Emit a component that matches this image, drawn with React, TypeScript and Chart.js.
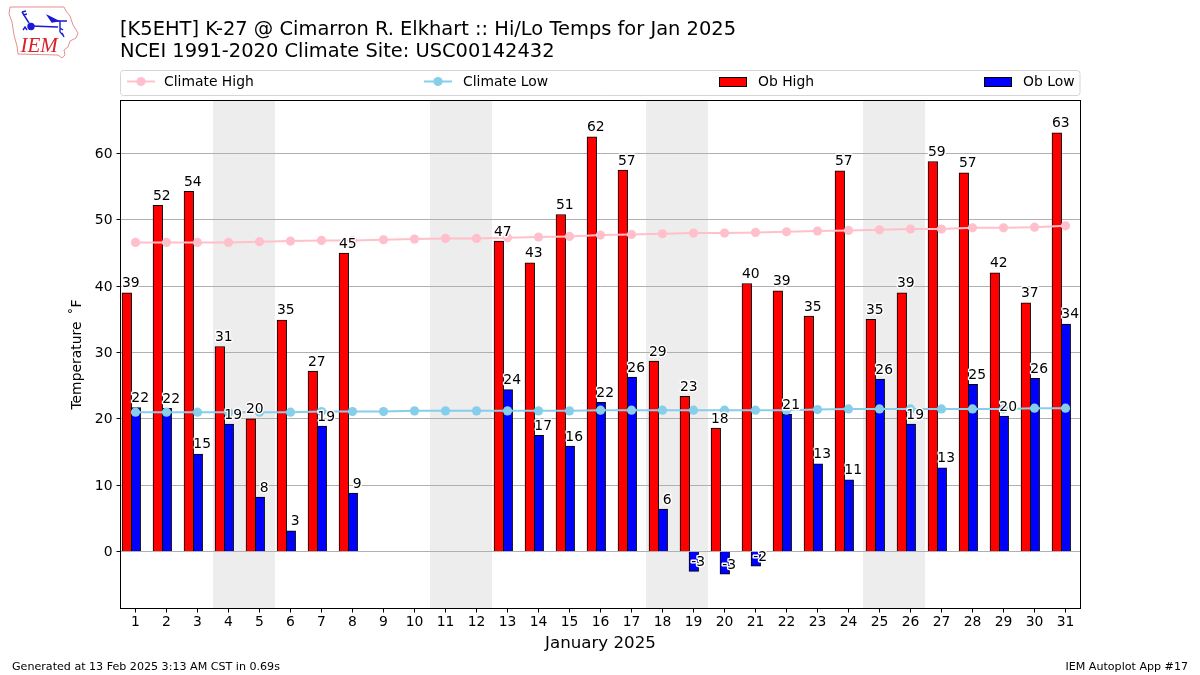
import React, { useEffect, useRef } from "react";
import { Chart, registerables } from "chart.js";

Chart.register(...registerables);

const days = Array.from({ length: 31 }, (_, i) => i + 1);
const climateHigh = [46.6,46.6,46.6,46.6,46.7,46.8,46.9,46.9,47.0,47.1,47.2,47.2,47.3,47.4,47.5,47.7,47.8,47.9,48.0,48.0,48.1,48.2,48.3,48.4,48.5,48.6,48.6,48.8,48.8,48.9,49.1];
const climateLow = [21.0,21.0,21.0,21.0,21.0,21.0,21.1,21.1,21.1,21.2,21.2,21.2,21.2,21.2,21.2,21.3,21.3,21.3,21.3,21.3,21.3,21.3,21.4,21.5,21.5,21.5,21.5,21.5,21.5,21.6,21.6];
const obHigh = [39.0,52.2,54.3,30.9,20.0,34.9,27.2,45.0,null,null,null,null,46.8,43.5,50.8,62.5,57.5,28.7,23.4,18.6,40.4,39.3,35.5,57.4,35.0,39.0,58.8,57.1,42.0,37.5,63.1];
const obLow = [21.7,21.6,14.7,19.2,8.2,3.1,18.9,8.8,null,null,null,null,24.4,17.5,15.9,22.5,26.3,6.4,-3.0,-3.4,-2.2,20.7,13.2,10.8,26.0,19.2,12.6,25.2,20.4,26.1,34.3];
const highLabels = ["39","52","54","31","20","35","27","45","","","","","47","43","51","62","57","29","23","18","40","39","35","57","35","39","59","57","42","37","63"];
const lowLabels = ["22","22","15","19","8","3","19","9","","","","","24","17","16","22","26","6","-3","-3","-2","21","13","11","26","19","13","25","20","26","34"];
const weekendBands = [[3.5,5.5],[10.5,12.5],[17.47,19.47],[24.47,26.47]];
const titleLines = ["[K5EHT] K-27 @ Cimarron R. Elkhart :: Hi/Lo Temps for Jan 2025","NCEI 1991-2020 Climate Site: USC00142432"];
const footerLeft = "Generated at 13 Feb 2025 3:13 AM CST in 0.69s";
const footerRight = "IEM Autoplot App #17";
const xTitle = "January 2025";
const yTitle = "Temperature \u2009\u02DAF";

const FONT = "'DejaVu Sans'";
const legendSlots = [
  { sym: 127, text: 164 },
  { sym: 424, text: 463 },
  { sym: 719, text: 758 },
  { sym: 984, text: 1023 },
];

const decor = {
  id: "decor",
  beforeDraw(chart: any) {
    const { ctx, chartArea: a, scales } = chart;
    ctx.save();
    ctx.fillStyle = "#ededed";
    for (const [s, e] of weekendBands) {
      const x0 = scales.x.getPixelForValue(s);
      const x1 = scales.x.getPixelForValue(e);
      ctx.fillRect(x0, a.top, x1 - x0, a.bottom - a.top);
    }
    ctx.restore();
  },
  afterDatasetsDraw(chart: any) {
    const { ctx, chartArea: a, scales } = chart;
    ctx.save();
    // zero line above the bars
    const y0 = Math.floor(scales.y.getPixelForValue(0)) + 0.5;
    ctx.strokeStyle = "#b0b0b0";
    ctx.lineWidth = 1;
    ctx.beginPath();
    ctx.moveTo(a.left, y0);
    ctx.lineTo(a.right, y0);
    ctx.stroke();
    // value labels with white halo
    ctx.font = `13.9px ${FONT}`;
    ctx.textAlign = "center";
    ctx.textBaseline = "alphabetic";
    ctx.lineJoin = "round";
    const put = (values: (number | null)[], labels: string[], shift: number) => {
      values.forEach((v, i) => {
        if (v === null) return;
        const x = scales.x.getPixelForValue(days[i] + shift);
        const y = scales.y.getPixelForValue(v) - 5.5;
        ctx.strokeStyle = "#fff";
        ctx.lineWidth = 2.8;
        ctx.strokeText(labels[i], x, y);
        ctx.fillStyle = "#000";
        ctx.fillText(labels[i], x, y);
      });
    };
    put(obHigh, highLabels, -0.15);
    put(obLow, lowLabels, 0.15);
    ctx.restore();
  },
  afterDraw(chart: any) {
    const { ctx, chartArea: a } = chart;
    ctx.save();
    // axes frame
    ctx.strokeStyle = "#000";
    ctx.lineWidth = 1;
    ctx.strokeRect(a.left, a.top, a.right - a.left, a.bottom - a.top);
    // titles
    ctx.fillStyle = "#000";
    ctx.textAlign = "left";
    ctx.textBaseline = "alphabetic";
    ctx.font = `19.45px ${FONT}`;
    ctx.fillText(titleLines[0], 120, 35);
    ctx.fillText(titleLines[1], 120, 57);
    // footer
    ctx.font = `11.1px ${FONT}`;
    ctx.fillText(footerLeft, 12, 670);
    ctx.textAlign = "right";
    ctx.fillText(footerRight, 1188, 670);
    // legend frame
    ctx.strokeStyle = "#d5d5d5";
    ctx.fillStyle = "#fff";
    ctx.beginPath();
    ctx.roundRect(120.5, 70.5, 959.5, 25, 3);
    ctx.fill();
    ctx.stroke();
    // legend entries
    ctx.textAlign = "left";
    ctx.textBaseline = "middle";
    ctx.font = `13.9px ${FONT}`;
    chart.data.datasets.forEach((ds: any, i: number) => {
      const slot = legendSlots[i];
      const cy = 81.5;
      if (ds.type === "line") {
        ctx.strokeStyle = ds.borderColor;
        ctx.lineWidth = 2;
        ctx.beginPath();
        ctx.moveTo(slot.sym, cy);
        ctx.lineTo(slot.sym + 28, cy);
        ctx.stroke();
        ctx.fillStyle = ds.borderColor;
        ctx.beginPath();
        ctx.arc(slot.sym + 14, cy, 4.6, 0, Math.PI * 2);
        ctx.fill();
      } else {
        ctx.fillStyle = ds.backgroundColor;
        ctx.fillRect(slot.sym + 0.5, 77.5, 27, 9);
        ctx.strokeStyle = "#000";
        ctx.lineWidth = 1;
        ctx.strokeRect(slot.sym + 0.5, 77.5, 27, 9);
      }
      ctx.fillStyle = "#000";
      ctx.fillText(ds.label, slot.text, cy + 1);
    });
    ctx.restore();
  },
};

function IemLogo() {
  return (
    <svg width={90} height={65} style={{ position: "absolute", left: 0, top: 0 }}>
      <path
        d="M10 7 L64 7 L66 11 L70 16 L73 25 L78 33 L76 38 L70 41 L68 47 L64 50 L65 55 L62 58 L58 55 L18 54 L17 46 L14 35 L12 22 L9 14 Z"
        fill="#fff"
        stroke="#e58f8f"
        strokeWidth={1}
      />
      <g stroke="#1a1ad6" fill="none" strokeWidth={1.4}>
        <path d="M31 26 L58 27 M22 12 L29 23 M22 12 L26 11 M23 15 L27 14 M57 21 L67 21 M60 21 L60 32 M60 32 L63 35 M60 28 L63 30" />
        <path d="M48 16 L58 21 L52 22 Z" fill="#1a1ad6" />
        <circle cx={31} cy={26.5} r={3} fill="#1a1ad6" />
        <path d="M23 30 L25 27 L27 30 M62 33 L64 37" />
      </g>
      <text x={20.5} y={52} fontFamily="'Liberation Serif'" fontStyle="italic" fontSize={21} fill="#d8202a">
        IEM
      </text>
    </svg>
  );
}

export default function App() {
  const ref = useRef<HTMLCanvasElement | null>(null);
  useEffect(() => {
    const chart = new Chart(ref.current as HTMLCanvasElement, {
      data: {
        datasets: [
          {
            type: "line",
            label: "Climate High",
            data: days.map((d, i) => ({ x: d, y: climateHigh[i] })),
            borderColor: "#FFC0CB",
            backgroundColor: "#FFC0CB",
            borderWidth: 2,
            pointRadius: 4.6,
            pointBorderWidth: 0,
            order: 0,
          },
          {
            type: "line",
            label: "Climate Low",
            data: days.map((d, i) => ({ x: d, y: climateLow[i] })),
            borderColor: "#87CEEB",
            backgroundColor: "#87CEEB",
            borderWidth: 2,
            pointRadius: 4.6,
            pointBorderWidth: 0,
            order: 0,
          },
          {
            type: "bar",
            label: "Ob High",
            data: days.map((d, i) => ({ x: d - 0.28, y: obHigh[i] })),
            backgroundColor: "#ff0000",
            borderColor: "#000",
            borderWidth: 1,
            barThickness: 9.6,
            grouped: false,
            order: 1,
          },
          {
            type: "bar",
            label: "Ob Low",
            data: days.map((d, i) => ({ x: d + 0.01, y: obLow[i] })),
            backgroundColor: "#0000ff",
            borderColor: "#000",
            borderWidth: 1,
            barThickness: 9.6,
            grouped: false,
            order: 1,
          },
        ],
      } as any,
      options: {
        animation: false,
        responsive: false,
        layout: { padding: { top: 100.5, left: 69, right: 119.5, bottom: 0 } },
        plugins: { legend: { display: false }, title: { display: false }, tooltip: { enabled: false } },
        scales: {
          x: {
            type: "linear",
            offset: false,
            min: 0.516,
            max: 31.484,
            afterFit: (s: any) => { s.height = 66.5; },
            afterBuildTicks: (s: any) => {
              s.ticks = days.map((d) => ({ value: d }));
            },
            ticks: {
              autoSkip: false,
              maxRotation: 0,
              color: "#000",
              font: { family: FONT, size: 13.9 },
              padding: 2,
              callback: (v: any) => String(v),
            },
            grid: { offset: false, drawOnChartArea: false, drawTicks: true, tickColor: "#000", tickLength: 4, tickWidth: 1 },
            border: { color: "#000", width: 1 },
            title: {
              display: true,
              text: xTitle,
              color: "#000",
              font: { family: FONT, size: 16.67 },
              padding: { top: 0, bottom: 21 },
            },
          },
          y: {
            type: "linear",
            min: -8.593,
            max: 67.99,
            afterFit: (s: any) => { s.width = 51.5; },
            afterBuildTicks: (s: any) => {
              s.ticks = [0, 10, 20, 30, 40, 50, 60].map((v) => ({ value: v }));
            },
            ticks: {
              color: "#000",
              font: { family: FONT, size: 13.9 },
              padding: 4,
              labelOffset: 1,
            },
            grid: { color: "#b0b0b0", lineWidth: 1, tickColor: "#000", tickLength: 4, tickWidth: 1 },
            border: { color: "#000", width: 1 },
            title: {
              display: true,
              text: yTitle,
              color: "#000",
              font: { family: FONT, size: 13.9 },
              padding: { top: 0, bottom: 0 },
            },
          },
        },
      } as any,
      plugins: [decor],
    });
    return () => chart.destroy();
  }, []);
  return (
    <div style={{ position: "absolute", left: 0, top: 0, width: 1200, height: 675 }}>
      <canvas ref={ref} width={1200} height={675} style={{ display: "block" }} />
      <IemLogo />
    </div>
  );
}
